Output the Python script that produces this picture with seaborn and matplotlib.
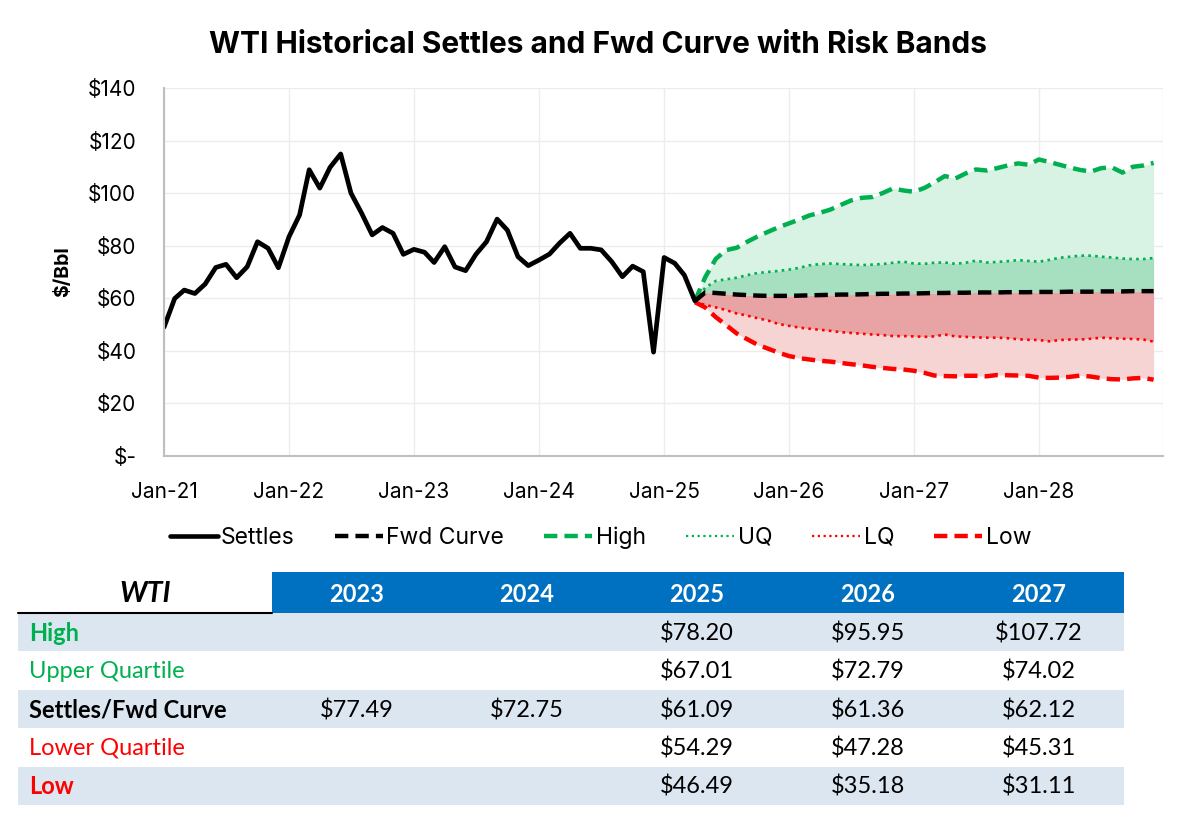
import pandas as pd
import numpy as np
import matplotlib
matplotlib.use("Agg")
import matplotlib.pyplot as plt
from matplotlib.lines import Line2D
from matplotlib.patches import Rectangle
import seaborn as sns

sns.set_theme(style="whitegrid")
plt.rcParams['font.family'] = ['Inter', 'DejaVu Sans']
plt.rcParams['text.color'] = 'black'
plt.rcParams['axes.labelcolor'] = 'black'

# ---- data ----
settles = [49.0, 59.9, 63.1, 61.8, 65.4, 71.7, 72.9, 67.8, 72.0, 81.5, 79.0, 71.6,
           83.4, 91.7, 108.9, 101.9, 109.8, 114.9, 100.0, 92.4, 84.1, 86.9, 84.7, 76.7,
           78.6, 77.5, 73.6, 79.6, 71.9, 70.5, 76.7, 81.5, 90.1, 85.9, 75.8, 72.4,
           74.5, 76.8, 80.9, 84.7, 79.0, 79.0, 78.4, 73.9, 68.2, 72.2, 70.1, 39.5,
           75.5, 73.3, 68.8, 59.0]
fwd = [59.0, 62.2, 62.0, 61.7, 61.4, 61.2, 61.0, 60.9, 60.9, 60.9, 61.0, 61.1,
       61.2, 61.3, 61.4, 61.4, 61.5, 61.6, 61.7, 61.7, 61.8, 61.8, 61.9, 62.0,
       62.0, 62.1, 62.1, 62.2, 62.2, 62.2, 62.3, 62.3, 62.3, 62.4, 62.4, 62.4,
       62.5, 62.5, 62.5, 62.6, 62.6, 62.6, 62.7, 62.7, 62.7]
high = [59.0, 68.0, 75.0, 78.3, 79.2, 81.5, 83.5, 85.3, 87.0, 88.5, 90.0, 91.5,
        92.5, 93.7, 95.5, 97.2, 98.2, 98.5, 100.0, 101.8, 101.0, 100.5, 102.0, 104.0,
        106.5, 105.5, 107.5, 109.0, 108.6, 109.5, 110.5, 111.3, 110.8, 112.8, 111.8, 110.8,
        109.7, 108.8, 108.2, 109.5, 109.8, 107.8, 110.0, 110.5, 111.5]
uq = [59.0, 64.0, 66.6, 67.2, 67.8, 68.8, 69.6, 70.0, 70.4, 70.9, 71.6, 72.5,
      73.0, 73.2, 73.0, 72.8, 72.6, 72.8, 73.0, 73.5, 73.9, 73.2, 73.1, 73.5,
      73.6, 73.1, 73.5, 74.3, 73.6, 73.8, 74.1, 74.5, 74.2, 73.9, 74.6, 75.4,
      75.8, 76.2, 76.2, 75.8, 75.5, 75.1, 74.9, 74.9, 75.3]
lq = [58.5, 57.5, 56.5, 55.5, 54.2, 53.4, 52.4, 51.5, 50.2, 49.5, 48.8, 48.4,
      48.0, 47.6, 47.1, 46.8, 46.5, 46.2, 46.0, 45.6, 45.6, 45.5, 45.3, 45.5,
      46.2, 45.5, 45.3, 45.1, 45.0, 45.0, 44.8, 44.4, 44.2, 44.1, 43.6, 44.1,
      44.3, 44.3, 44.6, 45.0, 44.8, 44.6, 44.5, 44.3, 43.5]
low = [58.5, 56.5, 52.8, 49.8, 46.6, 44.4, 42.3, 40.8, 39.3, 38.0, 37.2, 36.7,
       36.2, 35.9, 35.4, 34.9, 34.5, 33.9, 33.5, 33.1, 32.9, 32.4, 31.6, 30.6,
       30.4, 30.3, 30.5, 30.5, 30.3, 30.8, 30.7, 30.6, 30.5, 29.8, 29.7, 29.8,
       30.1, 30.6, 30.2, 29.6, 29.2, 29.1, 29.5, 29.7, 29.0]

table_years = ["2023", "2024", "2025", "2026", "2027"]
table_rows = ["High", "Upper Quartile", "Settles/Fwd Curve", "Lower Quartile", "Low"]
table_vals = [
    ["", "", "$78.20", "$95.95", "$107.72"],
    ["", "", "$67.01", "$72.79", "$74.02"],
    ["$77.49", "$72.75", "$61.09", "$61.36", "$62.12"],
    ["", "", "$54.29", "$47.28", "$45.31"],
    ["", "", "$46.49", "$35.18", "$31.11"],
]

hist = pd.DataFrame({"date": pd.date_range("2021-01-01", periods=len(settles), freq="MS"),
                     "price": settles})
fc = pd.DataFrame({"date": pd.date_range("2025-04-01", periods=len(fwd), freq="MS"),
                   "fwd": fwd, "high": high, "uq": uq, "lq": lq, "low": low})

GREEN = "#00B050"
RED = "#FF0000"

fig = plt.figure(figsize=(11.82, 8.26), dpi=100)
ax = fig.add_axes([0.1388, 0.448, 0.845, 0.4455])

# bands
ax.fill_between(fc["date"], fc["uq"], fc["high"], color="#d8f2e3", lw=0)
ax.fill_between(fc["date"], fc["fwd"], fc["uq"], color="#a7e0c1", lw=0)
ax.fill_between(fc["date"], fc["lq"], fc["fwd"], color="#e8a4a4", lw=0)
ax.fill_between(fc["date"], fc["low"], fc["lq"], color="#f7d4d4", lw=0)

dash = (0, (3, 1.6))
dot = (0, (1, 1.6))
sns.lineplot(data=fc, x="date", y="high", ax=ax, color=GREEN, lw=3.2, linestyle=dash)
sns.lineplot(data=fc, x="date", y="low", ax=ax, color=RED, lw=3.2, linestyle=dash)
sns.lineplot(data=fc, x="date", y="uq", ax=ax, color=GREEN, lw=1.9, linestyle=dot)
sns.lineplot(data=fc, x="date", y="lq", ax=ax, color=RED, lw=1.9, linestyle=dot)
sns.lineplot(data=fc, x="date", y="fwd", ax=ax, color="black", lw=3.2, linestyle=dash)
sns.lineplot(data=hist, x="date", y="price", ax=ax, color="black", lw=3.4)

ax.set_xlim(pd.Timestamp("2021-01-01"), pd.Timestamp("2028-12-28"))
ax.set_ylim(0, 140)
ax.set_yticks(range(0, 141, 20))
ax.set_yticklabels(["$-"] + [f"${v}" for v in range(20, 141, 20)])
ticks = list(pd.date_range("2021-01-01", "2028-01-01", freq="YS")) + [pd.Timestamp("2028-12-28")]
ax.set_xticks(ticks)
ax.set_xticklabels([d.strftime("Jan-%y") for d in ticks[:-1]] + [""])
ax.set_xlabel("")
ax.set_ylabel("$/Bbl", fontsize=14, fontweight="bold", labelpad=11, color="black")
ax.tick_params(axis="both", labelsize=15, labelcolor="black", length=6, width=1.2,
               direction="out", color="#bfbfbf")
ax.tick_params(axis="y", pad=14)
ax.tick_params(axis="x", pad=13)
ax.grid(True, color="#ececec", lw=1)
for s in ["top", "right"]:
    ax.spines[s].set_visible(False)
for s in ["left", "bottom"]:
    ax.spines[s].set_color("#bfbfbf")
    ax.spines[s].set_linewidth(1.5)

fig.text(0.506, 0.946, "WTI Historical Settles and Fwd Curve with Risk Bands",
         ha="center", va="center", fontsize=21.5, fontweight="bold", color="black")

handles = [
    Line2D([], [], color="black", lw=3.3),
    Line2D([], [], color="black", lw=3.2, linestyle=dash),
    Line2D([], [], color=GREEN, lw=3.2, linestyle=dash),
    Line2D([], [], color=GREEN, lw=1.6, linestyle=dot),
    Line2D([], [], color=RED, lw=1.6, linestyle=dot),
    Line2D([], [], color=RED, lw=3.2, linestyle=dash),
]
leg = fig.legend(handles, ["Settles", "Fwd Curve", "High", "UQ", "LQ", "Low"],
                 loc="center", bbox_to_anchor=(0.508, 0.349), ncol=6, frameon=False,
                 handlelength=2.1, handletextpad=0.15, columnspacing=1.75,
                 prop={"family": ["Inter", "DejaVu Sans"], "size": 16.5})
for t in leg.get_texts():
    t.set_color("black")

# ---- table ----
tx = fig.add_axes([0, 0, 1, 1], zorder=-1)
tx.set_xlim(0, 1182)
tx.set_ylim(826, 0)
tx.axis("off")
cal = ["Lato", "DejaVu Sans"]
col_x = [272, 442, 612, 782, 954, 1124]
row_top = 572
hdr_h = 41
row_h = 38.4
tx.add_patch(Rectangle((col_x[0], row_top), col_x[-1] - col_x[0], hdr_h, color="#0070C0", lw=0))
tx.plot([18, col_x[0]], [row_top + hdr_h, row_top + hdr_h], color="black", lw=1.5)
tx.text(145, row_top + hdr_h / 2 + 1, "WTI", ha="center", va="center", fontsize=20.5,
        fontweight="bold", style="italic", family=cal, color="black")
for i, yr in enumerate(table_years):
    tx.text((col_x[i] + col_x[i + 1]) / 2, row_top + hdr_h / 2 + 2, yr, ha="center", va="center",
            fontsize=17, fontweight="bold", color="white", family=cal)
row_style = [(GREEN, "bold"), (GREEN, "normal"), ("black", "bold"), (RED, "normal"), (RED, "bold")]
for r, name in enumerate(table_rows):
    y0 = row_top + hdr_h + r * row_h
    if r % 2 == 0:
        tx.add_patch(Rectangle((18, y0), col_x[-1] - 18, row_h, color="#dce6f1", lw=0))
    c, w = row_style[r]
    tx.text(29, y0 + row_h / 2 + 1, name, ha="left", va="center", fontsize=17,
            fontweight=w, color=c, family=cal)
    for i, v in enumerate(table_vals[r]):
        tx.text((col_x[i] + col_x[i + 1]) / 2, y0 + row_h / 2 + 1, v, ha="center", va="center",
                fontsize=17, color="black", family=cal)

fig.savefig("out.png", dpi=100)
